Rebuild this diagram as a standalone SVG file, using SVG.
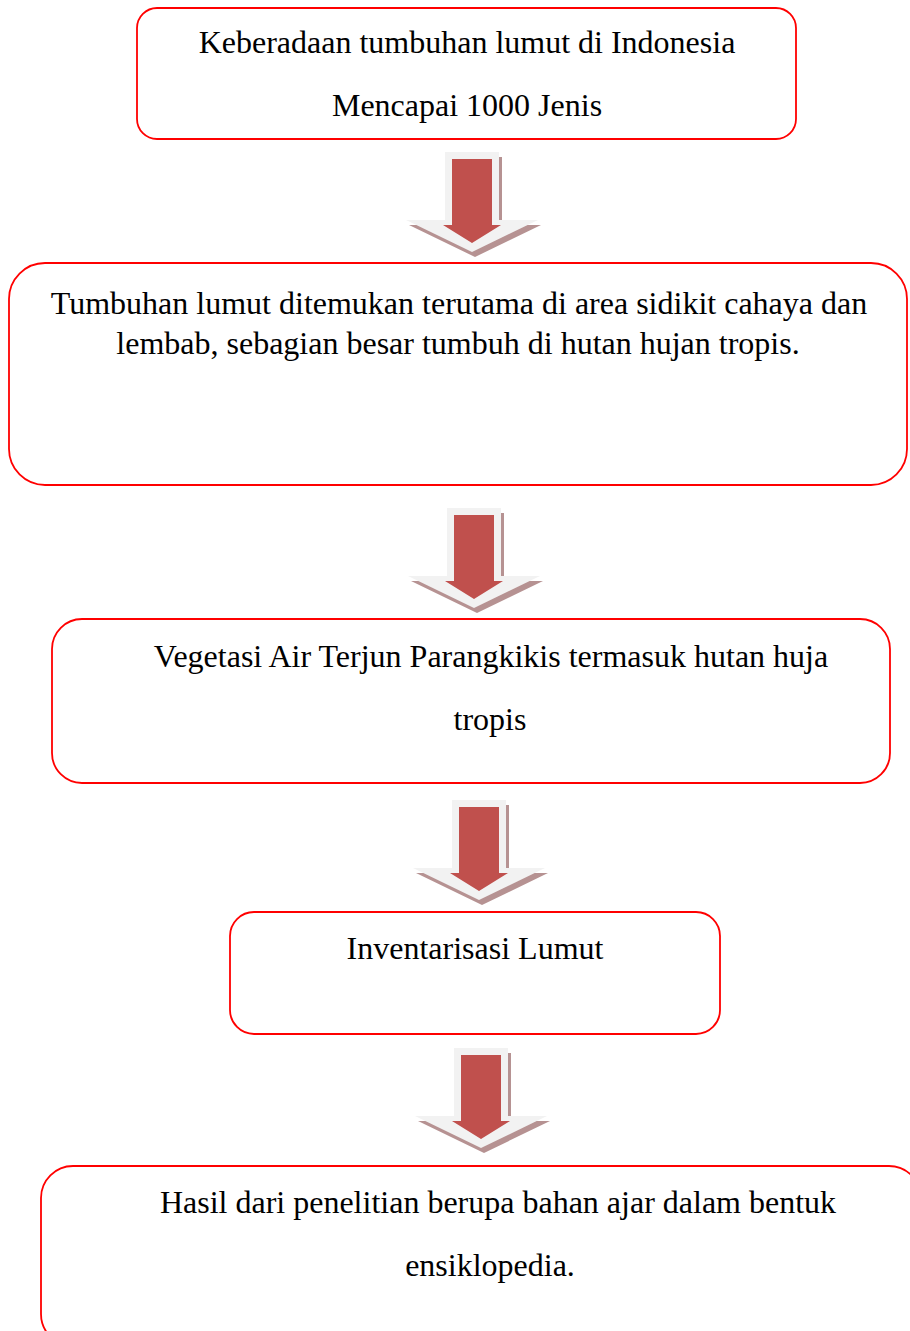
<svg xmlns="http://www.w3.org/2000/svg" width="910" height="1331" viewBox="0 0 910 1331">
<style>
.box{fill:#ffffff;stroke:#ff0000;stroke-width:1.8}
.t{font-family:"Liberation Serif","Times New Roman",serif;font-size:32px;fill:#000000;text-anchor:middle}
</style>
<defs>
<g id="arr">
<polygon points="-27,0 27,0 27,68 66,68 0,100 -66,68 -27,68" transform="translate(3,5)" fill="#b69292"/>
<polygon points="-27,0 27,0 27,68 66,68 0,100 -66,68 -27,68" fill="#f2f2f2"/>
<polygon points="-20,7 20,7 20,73 29,73 0,91 -29,73 -20,73" fill="#c0504d"/>
</g>
</defs>
<rect width="910" height="1331" fill="#ffffff"/>
<g id="connectors">
<use href="#arr" transform="translate(472,152)"/>
<use href="#arr" transform="translate(474,508)"/>
<use href="#arr" transform="translate(479,800)"/>
<use href="#arr" transform="translate(481,1048)"/>
</g>
<g id="node1">
<rect class="box" x="137" y="8" width="659" height="131" rx="20"/>
<text class="t" x="467" y="53">Keberadaan tumbuhan lumut di Indonesia</text>
<text class="t" x="467" y="116">Mencapai 1000 Jenis</text>
</g>
<g id="node2">
<rect class="box" x="9" y="263" width="898" height="222" rx="36"/>
<text class="t" x="459" y="314">Tumbuhan lumut ditemukan terutama di area sidikit cahaya dan</text>
<text class="t" x="458" y="354">lembab, sebagian besar tumbuh di hutan hujan tropis.</text>
</g>
<g id="node3">
<rect class="box" x="52" y="619" width="838" height="164" rx="30"/>
<text class="t" x="491" y="667">Vegetasi Air Terjun Parangkikis termasuk hutan huja</text>
<text class="t" x="490" y="730">tropis</text>
</g>
<g id="node4">
<rect class="box" x="230" y="912" width="490" height="122" rx="24"/>
<text class="t" x="475" y="959">Inventarisasi Lumut</text>
</g>
<g id="node5">
<rect class="box" x="41" y="1166" width="880" height="180" rx="32"/>
<text class="t" x="498" y="1213">Hasil dari penelitian berupa bahan ajar dalam bentuk</text>
<text class="t" x="490" y="1276">ensiklopedia.</text>
</g>
</svg>
